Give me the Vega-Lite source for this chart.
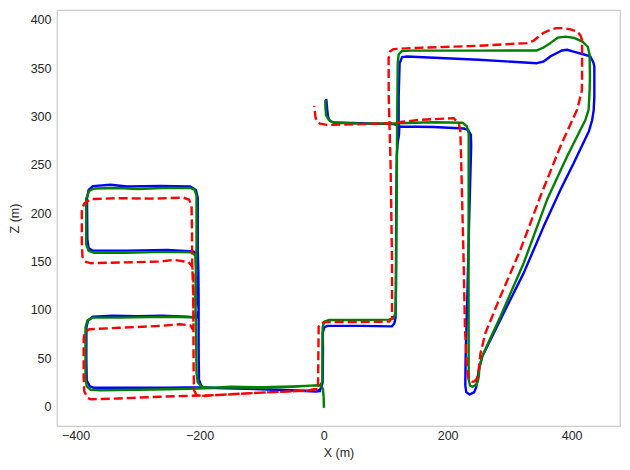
{
  "$schema": "https://vega.github.io/schema/vega-lite/v6.json",
  "width": 563,
  "height": 416,
  "autosize": {"type": "none"},
  "padding": {"left": 57, "top": 10, "right": 10, "bottom": 44},
  "background": "white",
  "config": {
    "view": {"stroke": "#cccccc", "strokeWidth": 1.25},
    "axis": {
      "domain": false, "ticks": false, "tickSize": 0, "grid": false,
      "labelFont": "Liberation Sans", "labelFontSize": 12.5, "labelColor": "#262626",
      "titleFont": "Liberation Sans", "titleFontSize": 12.5, "titleFontWeight": "normal", "titleColor": "#262626"
    }
  },
  "datasets": {
    "green": [
      {"i":1,"x":0.5,"z":0},{"i":2,"x":0,"z":10},{"i":3,"x":-1,"z":18},{"i":4,"x":-4,"z":21.5},{"i":5,"x":-12,"z":22},{"i":6,"x":-50,"z":21},{"i":7,"x":-100,"z":20},{"i":8,"x":-150,"z":20.5},{"i":9,"x":-190,"z":19},{"i":10,"x":-250,"z":18},{"i":11,"x":-300,"z":17.5},{"i":12,"x":-360,"z":17},{"i":13,"x":-376,"z":17.5},{"i":14,"x":-382,"z":21},{"i":15,"x":-384,"z":30},{"i":16,"x":-384,"z":82},{"i":17,"x":-381,"z":89},{"i":18,"x":-373,"z":92},{"i":19,"x":-330,"z":92},{"i":20,"x":-280,"z":92.5},{"i":21,"x":-240,"z":93},{"i":22,"x":-207,"z":92},{"i":23,"x":-206,"z":110},{"i":24,"x":-206,"z":140},{"i":25,"x":-207,"z":156},{"i":26,"x":-212,"z":159.5},{"i":27,"x":-260,"z":160},{"i":28,"x":-320,"z":159},{"i":29,"x":-370,"z":159},{"i":30,"x":-379,"z":161},{"i":31,"x":-383,"z":168},{"i":32,"x":-383,"z":215},{"i":33,"x":-378,"z":223},{"i":34,"x":-370,"z":225.5},{"i":35,"x":-330,"z":226},{"i":36,"x":-300,"z":225},{"i":37,"x":-260,"z":226},{"i":38,"x":-215,"z":226},{"i":39,"x":-208,"z":224},{"i":40,"x":-205,"z":218},{"i":41,"x":-205,"z":165},{"i":42,"x":-206,"z":140},{"i":43,"x":-207,"z":110},{"i":44,"x":-206,"z":92},{"i":45,"x":-205,"z":35},{"i":46,"x":-203,"z":25},{"i":47,"x":-196,"z":20.5},{"i":48,"x":-188,"z":19.5},{"i":49,"x":-150,"z":20},{"i":50,"x":-100,"z":19.5},{"i":51,"x":-50,"z":20.5},{"i":52,"x":-15,"z":22},{"i":53,"x":-5,"z":22.5},{"i":54,"x":-2,"z":26},{"i":55,"x":-2,"z":60},{"i":56,"x":-1.5,"z":82},{"i":57,"x":1,"z":88},{"i":58,"x":8,"z":89.5},{"i":59,"x":60,"z":89.5},{"i":60,"x":105,"z":90},{"i":61,"x":112,"z":91},{"i":62,"x":116,"z":96},{"i":63,"x":117,"z":150},{"i":64,"x":118,"z":220},{"i":65,"x":118.5,"z":292},{"i":66,"x":119.5,"z":355},{"i":67,"x":121,"z":364},{"i":68,"x":126,"z":367.5},{"i":69,"x":140,"z":368},{"i":70,"x":250,"z":368},{"i":71,"x":344,"z":368.2},{"i":72,"x":354,"z":371},{"i":73,"x":366,"z":376},{"i":74,"x":378,"z":381.5},{"i":75,"x":390,"z":382.5},{"i":76,"x":405,"z":381},{"i":77,"x":418,"z":377},{"i":78,"x":426,"z":372},{"i":79,"x":429,"z":364},{"i":80,"x":429.5,"z":340},{"i":81,"x":429,"z":327},{"i":82,"x":427.4,"z":307},{"i":83,"x":422,"z":296},{"i":84,"x":414,"z":286},{"i":85,"x":392.6,"z":258.5},{"i":86,"x":360.3,"z":213.8},{"i":87,"x":322.6,"z":148.3},{"i":88,"x":285,"z":93},{"i":89,"x":268.9,"z":70.7},{"i":90,"x":255.5,"z":51.7},{"i":91,"x":251.6,"z":41.4},{"i":92,"x":250,"z":30},{"i":93,"x":247,"z":23},{"i":94,"x":240,"z":20.5},{"i":95,"x":236,"z":22},{"i":96,"x":234,"z":28},{"i":97,"x":233.9,"z":60},{"i":98,"x":233.8,"z":150},{"i":99,"x":233.9,"z":250},{"i":100,"x":234,"z":282},{"i":101,"x":231,"z":290},{"i":102,"x":224,"z":293.5},{"i":103,"x":177,"z":294},{"i":104,"x":118.4,"z":293},{"i":105,"x":60,"z":292.5},{"i":106,"x":16,"z":293.5},{"i":107,"x":9,"z":296},{"i":108,"x":4,"z":301},{"i":109,"x":3,"z":308},{"i":110,"x":2.7,"z":315.4}
    ],
    "blue": [
      {"i":1,"x":-6,"z":16},{"i":2,"x":-12,"z":15.5},{"i":3,"x":-30,"z":16},{"i":4,"x":-100,"z":18},{"i":5,"x":-160,"z":19},{"i":6,"x":-199,"z":20},{"i":7,"x":-250,"z":19.5},{"i":8,"x":-320,"z":19.5},{"i":9,"x":-370,"z":19.5},{"i":10,"x":-377,"z":21},{"i":11,"x":-382,"z":27},{"i":12,"x":-382.7,"z":50},{"i":13,"x":-382.5,"z":82},{"i":14,"x":-380,"z":89},{"i":15,"x":-372,"z":93},{"i":16,"x":-340,"z":94},{"i":17,"x":-300,"z":93.5},{"i":18,"x":-260,"z":94},{"i":19,"x":-220,"z":93},{"i":20,"x":-204,"z":92},{"i":21,"x":-201.5,"z":100},{"i":22,"x":-203,"z":110},{"i":23,"x":-202,"z":140},{"i":24,"x":-203,"z":157},{"i":25,"x":-210,"z":160.3},{"i":26,"x":-252,"z":162},{"i":27,"x":-317,"z":161.3},{"i":28,"x":-373,"z":161.3},{"i":29,"x":-379,"z":164},{"i":30,"x":-381,"z":172},{"i":31,"x":-381.6,"z":215},{"i":32,"x":-379,"z":224},{"i":33,"x":-372,"z":228},{"i":34,"x":-344,"z":229.3},{"i":35,"x":-317,"z":227.5},{"i":36,"x":-263,"z":228.2},{"i":37,"x":-215,"z":227.5},{"i":38,"x":-206,"z":224},{"i":39,"x":-203,"z":216},{"i":40,"x":-203,"z":162},{"i":41,"x":-202,"z":140},{"i":42,"x":-201.6,"z":110},{"i":43,"x":-201.6,"z":60},{"i":44,"x":-201,"z":28},{"i":45,"x":-197,"z":21},{"i":46,"x":-190,"z":19.5},{"i":47,"x":-100,"z":18},{"i":48,"x":-30,"z":16.5},{"i":49,"x":-12,"z":15.5},{"i":50,"x":-5,"z":18},{"i":51,"x":-1.5,"z":25},{"i":52,"x":-1,"z":60},{"i":53,"x":-1.5,"z":76},{"i":54,"x":1,"z":82},{"i":55,"x":6,"z":83.5},{"i":56,"x":60,"z":83.5},{"i":57,"x":110,"z":83},{"i":58,"x":114,"z":86},{"i":59,"x":116,"z":92},{"i":60,"x":116.7,"z":120},{"i":61,"x":117,"z":200},{"i":62,"x":118,"z":260},{"i":63,"x":119.4,"z":272.4},{"i":64,"x":121.5,"z":281},{"i":65,"x":122,"z":287},{"i":66,"x":121,"z":293},{"i":67,"x":121,"z":320},{"i":68,"x":122.6,"z":355},{"i":69,"x":126.5,"z":361.3},{"i":70,"x":134.5,"z":362},{"i":71,"x":250,"z":358.5},{"i":72,"x":344,"z":355},{"i":73,"x":354.8,"z":356.8},{"i":74,"x":365.6,"z":362},{"i":75,"x":376.4,"z":365.5},{"i":76,"x":384.5,"z":368.2},{"i":77,"x":392.6,"z":368.9},{"i":78,"x":403.2,"z":367},{"i":79,"x":420,"z":364},{"i":80,"x":430,"z":362},{"i":81,"x":435,"z":356},{"i":82,"x":436.6,"z":351.6},{"i":83,"x":436.6,"z":320},{"i":84,"x":435.5,"z":306},{"i":85,"x":433,"z":296},{"i":86,"x":428,"z":285},{"i":87,"x":403.2,"z":251.7},{"i":88,"x":381.8,"z":224},{"i":89,"x":354.8,"z":186.1},{"i":90,"x":322.6,"z":138},{"i":91,"x":290.3,"z":96.6},{"i":92,"x":271.6,"z":72.4},{"i":93,"x":256,"z":52},{"i":94,"x":251,"z":40},{"i":95,"x":248.4,"z":30},{"i":96,"x":246,"z":20},{"i":97,"x":243,"z":15},{"i":98,"x":235.5,"z":12.5},{"i":99,"x":230,"z":15},{"i":100,"x":228.5,"z":22},{"i":101,"x":229,"z":50},{"i":102,"x":232,"z":120},{"i":103,"x":235,"z":200},{"i":104,"x":238,"z":270},{"i":105,"x":237.5,"z":281},{"i":106,"x":233,"z":286},{"i":107,"x":226,"z":287.5},{"i":108,"x":177.4,"z":289},{"i":109,"x":123.7,"z":289.6},{"i":110,"x":113,"z":292},{"i":111,"x":60,"z":293},{"i":112,"x":16,"z":293.7},{"i":113,"x":10,"z":295.5},{"i":114,"x":7,"z":300},{"i":115,"x":6,"z":306},{"i":116,"x":4.4,"z":317}
    ],
    "red": [
      {"i":1,"x":-10,"z":18},{"i":2,"x":-16,"z":18},{"i":3,"x":-27,"z":16.5},{"i":4,"x":-100,"z":14.5},{"i":5,"x":-172,"z":12},{"i":6,"x":-226,"z":11},{"i":7,"x":-263,"z":10.3},{"i":8,"x":-330,"z":8.5},{"i":9,"x":-375,"z":7.6},{"i":10,"x":-381,"z":9},{"i":11,"x":-386,"z":16},{"i":12,"x":-387,"z":30},{"i":13,"x":-387,"z":70},{"i":14,"x":-385,"z":77},{"i":15,"x":-378,"z":80},{"i":16,"x":-330,"z":81.5},{"i":17,"x":-263,"z":83.5},{"i":18,"x":-231,"z":85.2},{"i":19,"x":-215,"z":84},{"i":20,"x":-211,"z":80},{"i":21,"x":-210,"z":90},{"i":22,"x":-210,"z":138},{"i":23,"x":-212,"z":145},{"i":24,"x":-218,"z":149.5},{"i":25,"x":-242,"z":151.7},{"i":26,"x":-263,"z":150},{"i":27,"x":-330,"z":149},{"i":28,"x":-376,"z":148.3},{"i":29,"x":-385,"z":150},{"i":30,"x":-389,"z":155},{"i":31,"x":-390,"z":170},{"i":32,"x":-390,"z":203},{"i":33,"x":-386,"z":210},{"i":34,"x":-376,"z":214.5},{"i":35,"x":-330,"z":215.5},{"i":36,"x":-280,"z":215},{"i":37,"x":-226,"z":216},{"i":38,"x":-217,"z":214},{"i":39,"x":-213,"z":208},{"i":40,"x":-212.3,"z":180},{"i":41,"x":-212,"z":150},{"i":42,"x":-210.5,"z":120},{"i":43,"x":-210,"z":84},{"i":44,"x":-209.7,"z":40},{"i":45,"x":-209,"z":17},{"i":46,"x":-205,"z":12},{"i":47,"x":-190,"z":11},{"i":48,"x":-172,"z":12},{"i":49,"x":-100,"z":14.5},{"i":50,"x":-27,"z":16.5},{"i":51,"x":-14,"z":18},{"i":52,"x":-9,"z":22},{"i":53,"x":-8,"z":82.7},{"i":54,"x":-5.3,"z":86.2},{"i":55,"x":4,"z":87.5},{"i":56,"x":60,"z":87.5},{"i":57,"x":106,"z":87.9},{"i":58,"x":110.3,"z":92},{"i":59,"x":110.3,"z":150},{"i":60,"x":108,"z":250},{"i":61,"x":106.5,"z":285},{"i":62,"x":106,"z":296},{"i":63,"x":105,"z":320},{"i":64,"x":104.8,"z":360},{"i":65,"x":107,"z":367},{"i":66,"x":113,"z":369.6},{"i":67,"x":139.8,"z":370.6},{"i":68,"x":250,"z":373},{"i":69,"x":328,"z":375.8},{"i":70,"x":338,"z":378},{"i":71,"x":344,"z":381},{"i":72,"x":355,"z":386.5},{"i":73,"x":365.6,"z":389.6},{"i":74,"x":375,"z":391.3},{"i":75,"x":387,"z":391.3},{"i":76,"x":398,"z":390},{"i":77,"x":408.7,"z":387.8},{"i":78,"x":414,"z":384},{"i":79,"x":416.8,"z":379},{"i":80,"x":416.8,"z":340},{"i":81,"x":416.5,"z":327},{"i":82,"x":412,"z":315},{"i":83,"x":408.7,"z":306.8},{"i":84,"x":381.8,"z":268.9},{"i":85,"x":349.5,"z":217.2},{"i":86,"x":317.3,"z":162},{"i":87,"x":285,"z":113.8},{"i":88,"x":260.8,"z":75.9},{"i":89,"x":253,"z":55},{"i":90,"x":250,"z":38},{"i":91,"x":247.4,"z":29.4},{"i":92,"x":243,"z":26},{"i":93,"x":239.4,"z":25.9},{"i":94,"x":234,"z":28},{"i":95,"x":231.3,"z":40},{"i":96,"x":228,"z":80},{"i":97,"x":225.8,"z":150},{"i":98,"x":222,"z":250},{"i":99,"x":220.5,"z":285},{"i":100,"x":218,"z":293},{"i":101,"x":209.7,"z":298.2},{"i":102,"x":156,"z":296.5},{"i":103,"x":107.6,"z":293},{"i":104,"x":60,"z":292},{"i":105,"x":16,"z":291.3},{"i":106,"x":5,"z":291.3},{"i":107,"x":-6,"z":292.5},{"i":108,"x":-11,"z":295},{"i":109,"x":-13.4,"z":300},{"i":110,"x":-15,"z":311}
    ]
  },
  "encoding": {
    "x": {"field": "x", "type": "quantitative",
      "scale": {"domain": [-430, 478], "nice": false, "zero": false},
      "axis": {"values": [-400, -200, 0, 200, 400], "title": "X (m)", "labelPadding": 3, "titlePadding": 5}},
    "y": {"field": "z", "type": "quantitative",
      "scale": {"domain": [-20, 410], "nice": false, "zero": false},
      "axis": {"values": [0, 50, 100, 150, 200, 250, 300, 350, 400], "title": "Z (m)", "labelPadding": 6, "titlePadding": 9}},
    "order": {"field": "i", "type": "quantitative"}
  },
  "layer": [
    {"data": {"name": "blue"}, "mark": {"type": "line", "color": "#0000ff", "strokeWidth": 2.4, "strokeJoin": "round", "strokeCap": "square", "clip": true}},
    {"data": {"name": "green"}, "mark": {"type": "line", "color": "#008000", "strokeWidth": 2.4, "strokeJoin": "round", "strokeCap": "square", "clip": true}},
    {"data": {"name": "red"}, "mark": {"type": "line", "color": "#ff0000", "strokeWidth": 2.4, "strokeJoin": "round", "strokeCap": "butt", "strokeDash": [9, 4], "clip": true}}
  ]
}
